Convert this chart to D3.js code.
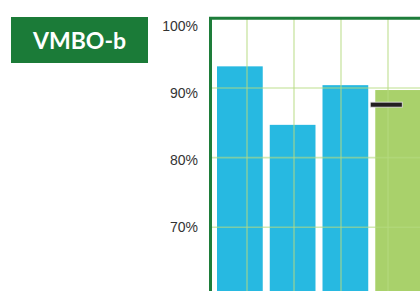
<!DOCTYPE html>
<html lang="nl">
<head>
  <meta charset="UTF-8">
  <title>VMBO-b</title>
  <script src="https://d3js.org/d3.v7.min.js"></script>
  <style>
    body { margin: 0; background: #fff; }
    #chart { width: 420px; height: 291px; overflow: hidden; }
    .tick-label { font-family: "Liberation Sans", Arial, sans-serif; font-size: 14px; fill: #333; }
    .title { font-family: Lato, sans-serif; font-weight: bold; font-size: 23px; fill: #fff; }
  </style>
</head>
<body>
  <div id="chart"></div>

  <script>
    // data
    const categories = ["2019", "2020", "2021", "2022"];
    const values = [93.1, 84.7, 90.4, 89.7];
    const barColors = ["#27b9e1", "#27b9e1", "#27b9e1", "#a9d16b"];
    const normValue = 87.6;
    const normCategory = "2022";
    const yTicks = [100, 90, 80, 70, 60];
    const yTickLabels = ["100%", "90%", "80%", "70%"];
    const gridCols = [1, 2, 3, 4, 5];
    const title = "VMBO-b";

    const width = 420, height = 291;
    const plotLeft = 210.5, plotTop = 18.3;

    const svg = d3.select("#chart").append("svg")
                  .attr("width", width)
                  .attr("height", height);

    // title box
    svg.append("rect")
       .attr("x", 11).attr("y", 17)
       .attr("width", 137).attr("height", 46)
       .attr("fill", "#1b7b38");
    svg.append("text")
       .attr("class", "title")
       .attr("x", 79.5).attr("y", 40)
       .attr("text-anchor", "middle")
       .attr("dominant-baseline", "central")
       .text(title);

    const y = d3.scaleLinear().domain([50, 100]).range([366.5, plotTop]);
    // the labels in the picture sit on a slightly tighter spacing than the grid
    const yLabel = d3.scaleLinear().domain([70, 100]).range([227, 25.8]);
    const x = d3.scaleBand().domain(categories).range([217, 421]).paddingInner(0.133);
    const gx = d3.scaleLinear().domain([0, 1]).range([plotLeft - 10.5, plotLeft + 36.5]);

    // bars
    svg.selectAll("rect.bar")
       .data(categories)
       .enter().append("rect")
       .attr("class", "bar")
       .attr("x", d => x(d))
       .attr("width", x.bandwidth())
       .attr("y", (d, i) => y(values[i]))
       .attr("height", (d, i) => y(50) - y(values[i]))
       .attr("fill", (d, i) => barColors[i]);

    // grid over the bars
    const grid = svg.append("g")
                    .attr("stroke", "#b5da80")
                    .attr("stroke-opacity", 0.6)
                    .attr("stroke-width", 1.6);
    grid.selectAll("line.h")
        .data(yTicks.filter(v => v < 100))
        .enter().append("line")
        .attr("x1", plotLeft).attr("x2", width)
        .attr("y1", d => y(d)).attr("y2", d => y(d));
    grid.selectAll("line.v")
        .data(gridCols)
        .enter().append("line")
        .attr("x1", d => gx(d)).attr("x2", d => gx(d))
        .attr("y1", plotTop).attr("y2", height);

    // norm marker
    svg.append("rect")
       .attr("x", x(normCategory) - 5)
       .attr("y", y(normValue) - 2.5)
       .attr("width", 32)
       .attr("height", 5)
       .attr("fill", "#231f20")
       .attr("stroke", "#e6e6e6")
       .attr("stroke-width", 0.8);

    // frame
    svg.append("path")
       .attr("d", `M${plotLeft},${height} V${plotTop} H${width}`)
       .attr("fill", "none")
       .attr("stroke", "#1e7d3a")
       .attr("stroke-width", 3);

    // y labels
    svg.selectAll("text.tick-label")
       .data(yTickLabels)
       .enter().append("text")
       .attr("class", "tick-label")
       .attr("x", 198)
       .attr("y", (d, i) => yLabel(yTicks[i]))
       .attr("text-anchor", "end")
       .attr("dominant-baseline", "central")
       .text(d => d);
  </script>
</body>
</html>
